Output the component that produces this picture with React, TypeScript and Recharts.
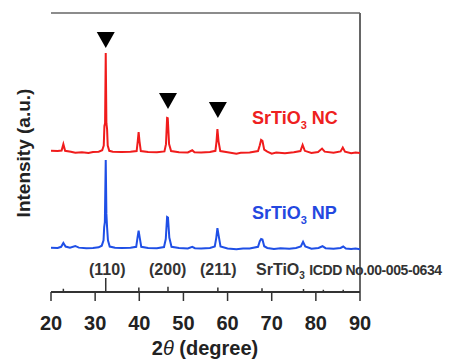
import React from "react";
import { ComposedChart, Line, Scatter, XAxis, YAxis, ReferenceLine } from "recharts";

// 2θ (deg) / intensity (a.u., offset stacked)
const ncPattern: [number, number][] = [
  [20, 50.6], [21.5, 50.5], [22.4, 50.7], [22.8, 53.0], [23.2, 50.6], [24.5, 50.3], [25.5, 49.9],
  [27, 50.1], [28.5, 49.8], [29.5, 50.2], [30.8, 50.3], [31.6, 50.8], [31.95, 52.5], [32.1, 59.5],
  [32.25, 60.5], [32.4, 85.7], [32.55, 60.5], [32.7, 58.5], [32.85, 52.5], [33.2, 50.6], [34, 50.3],
  [36, 50.2], [38, 50.3], [39.4, 50.5], [39.65, 54], [39.85, 57.3], [40.05, 54], [40.35, 50.5],
  [42, 50.2], [44, 50.1], [45.7, 50.4], [46.05, 53], [46.3, 62.4], [46.45, 62.3], [46.75, 53],
  [47.2, 50.5], [49, 50.1], [51, 50.0], [52, 50.8], [52.5, 50.1], [54, 50.0], [56, 50.2],
  [57.25, 50.6], [57.5, 54], [57.7, 58.4], [57.95, 54], [58.35, 50.5], [60, 50.1], [62, 49.6],
  [63, 49.9], [65, 50.0], [66.9, 50.5], [67.3, 52.6], [67.6, 54.5], [67.9, 54.2], [68.3, 51],
  [69, 50.3], [70, 49.6], [71, 50.0], [73, 49.7], [75, 50.1], [76.5, 50.5], [77.0, 52.7],
  [77.5, 50.6], [79, 49.8], [80.5, 50.2], [81.4, 51.4], [82, 50.3], [84, 49.9], [85.6, 50.4],
  [86.1, 51.8], [86.6, 50.3], [88, 49.7], [89, 50.0], [90, 49.8],
];

const npPattern: [number, number][] = [
  [20, 15.9], [21.5, 15.8], [22.3, 16.2], [22.8, 17.6], [23.3, 16.3], [24.3, 15.9], [25.5, 16.5],
  [26.3, 15.9], [28, 15.7], [29.5, 15.8], [30.8, 16.0], [31.5, 16.6], [31.9, 18.5], [32.05, 23.3],
  [32.2, 25], [32.4, 47.3], [32.55, 28], [32.7, 23.3], [32.9, 18.5], [33.3, 16.3], [34.5, 15.9],
  [36, 15.8], [38, 15.9], [39.3, 16.2], [39.6, 19.5], [39.85, 22.0], [40.1, 19.5], [40.45, 16.2],
  [42, 15.8], [44, 15.7], [45.6, 16.1], [46.0, 19], [46.3, 26.9], [46.5, 26.7], [46.8, 19.5],
  [47.3, 16.2], [49, 15.8], [51, 15.6], [52, 16.2], [52.6, 15.7], [54, 15.6], [56, 15.8],
  [57.1, 16.3], [57.45, 19.5], [57.7, 22.9], [58.0, 20], [58.4, 16.3], [60, 15.6], [62, 15.3],
  [63.5, 15.6], [65, 15.6], [66.9, 16.2], [67.3, 18.2], [67.6, 19.0], [67.9, 18.8], [68.3, 16.4],
  [69, 15.8], [70.5, 15.4], [72, 15.7], [74, 15.5], [75.5, 15.8], [76.6, 16.3], [77.1, 18.0],
  [77.6, 16.3], [79, 15.5], [80.6, 15.8], [81.5, 16.4], [82.2, 15.7], [84, 15.5], [85.6, 15.8],
  [86.2, 16.3], [86.8, 15.6], [88, 15.4], [89, 15.6], [90, 15.3],
];

// ICDD 00-005-0634 reference lines: position, relative height
const refPositions = [22.8, 32.4, 39.9, 46.5, 57.8, 67.8, 77.2, 81.7, 86.2];
const refHeights = [1.2, 5.0, 1.6, 1.9, 1.6, 1.3, 1.1, 0.8, 0.8];

// marked peaks (triangles)
const markPositions = [32.4, 46.5, 57.8];
const markHeights = [90.3, 68.5, 65.2];

const xTicks = [20, 30, 40, 50, 60, 70, 80, 90];
const hklLabels = ["(110)", "(200)", "(211)"];

const toRows = (arr: [number, number][]) => arr.map(([x, y]) => ({ x, y }));
const ncData = toRows(ncPattern);
const npData = toRows(npPattern);
const stickData = refPositions.flatMap((x, i) => [
  { x, y: 0 },
  { x, y: refHeights[i] },
  { x, y: 0 },
]);
const markData = markPositions.map((x, i) => ({ x, y: markHeights[i] }));

const FONT = "'Liberation Sans', Arial, sans-serif";
const FRAME = "#666";

const Triangle = (props: any) => {
  const { cx, cy } = props;
  return (
    <polygon
      points={`${cx - 9},${cy - 8} ${cx + 9},${cy - 8} ${cx},${cy + 8}`}
      fill="#000"
    />
  );
};

const bold: React.CSSProperties = {
  position: "absolute",
  fontFamily: FONT,
  fontWeight: 700,
  whiteSpace: "nowrap",
  lineHeight: 1,
};

export default function App() {
  return (
    <div style={{ position: "absolute", left: 0, top: 0, width: 453, height: 362, background: "#fff" }}>
      <ComposedChart
        width={453}
        height={362}
        margin={{ top: 13, right: 93, left: 51, bottom: 30 }}
      >
        <XAxis
          dataKey="x"
          type="number"
          domain={[20, 90]}
          ticks={xTicks}
          allowDataOverflow
          height={40}
          tickSize={9}
          tickMargin={15}
          axisLine={{ stroke: "#333", strokeWidth: 2 }}
          tickLine={{ stroke: "#333", strokeWidth: 1.5 }}
          tick={{ fill: "#222", fontSize: 20, fontWeight: 700, fontFamily: FONT }}
        />
        <YAxis
          type="number"
          domain={[0, 100]}
          allowDataOverflow
          width={0}
          tick={false}
          tickLine={false}
          axisLine={{ stroke: FRAME, strokeWidth: 2 }}
        />
        <ReferenceLine y={100} stroke={FRAME} strokeWidth={1.5} />
        <ReferenceLine x={90} stroke={FRAME} strokeWidth={2} />

        <Line
          data={stickData}
          dataKey="y"
          type="linear"
          stroke="#333"
          strokeWidth={1.5}
          dot={false}
          isAnimationActive={false}
        />
        <Line
          data={npData}
          dataKey="y"
          type="linear"
          stroke="#1f4fe6"
          strokeWidth={2}
          dot={false}
          isAnimationActive={false}
        />
        <Line
          data={ncData}
          dataKey="y"
          type="linear"
          stroke="#f01c1c"
          strokeWidth={2}
          dot={false}
          isAnimationActive={false}
        />
        <Scatter data={markData} dataKey="y" shape={<Triangle />} isAnimationActive={false} />
      </ComposedChart>

      <div style={{ ...bold, left: 252, top: 109, fontSize: 18, color: "#ee2020" }}>
        SrTiO<sub style={{ fontSize: 11 }}>3</sub> NC
      </div>
      <div style={{ ...bold, left: 252, top: 204, fontSize: 18, color: "#2448e0" }}>
        SrTiO<sub style={{ fontSize: 11 }}>3</sub> NP
      </div>

      <div style={{ ...bold, left: 89, top: 262, fontSize: 16, color: "#333" }}>{hklLabels[0]}</div>
      <div style={{ ...bold, left: 149, top: 262, fontSize: 16, color: "#333" }}>{hklLabels[1]}</div>
      <div style={{ ...bold, left: 200, top: 262, fontSize: 16, color: "#333" }}>{hklLabels[2]}</div>
      <div style={{ ...bold, left: 256, top: 262, fontSize: 16, color: "#333" }}>
        SrTiO<sub style={{ fontSize: 10 }}>3</sub>{" "}
        <span style={{ fontSize: 14, letterSpacing: -0.4 }}>ICDD No.00-005-0634</span>
      </div>

      <div style={{ ...bold, left: 0, width: 410, top: 338, fontSize: 20, color: "#222", textAlign: "center" }}>
        2<span style={{ fontStyle: "italic", fontWeight: 400 }}>θ</span> (degree)
      </div>
      <div
        style={{
          ...bold,
          left: 23,
          top: 153,
          fontSize: 19,
          color: "#222",
          transform: "translate(-50%, -50%) rotate(-90deg)",
        }}
      >
        Intensity (a.u.)
      </div>
    </div>
  );
}
